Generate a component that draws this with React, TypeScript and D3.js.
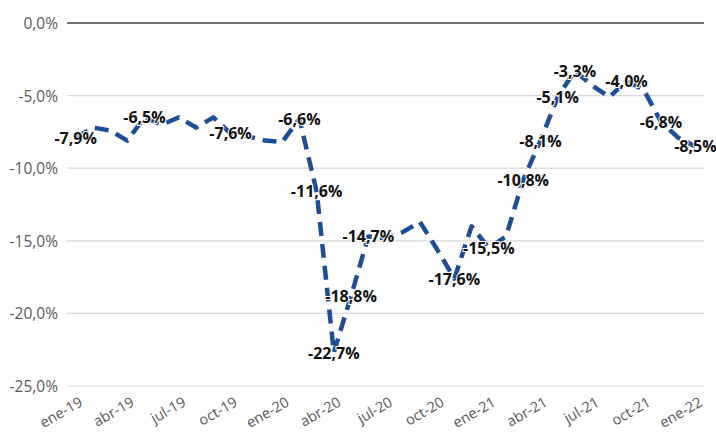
import React from "react";
import * as d3 from "d3";

const months = [
  "ene-19", "feb-19", "mar-19", "abr-19", "may-19", "jun-19", "jul-19", "ago-19", "sep-19", "oct-19", "nov-19", "dic-19",
  "ene-20", "feb-20", "mar-20", "abr-20", "may-20", "jun-20", "jul-20", "ago-20", "sep-20", "oct-20", "nov-20", "dic-20",
  "ene-21", "feb-21", "mar-21", "abr-21", "may-21", "jun-21", "jul-21", "ago-21", "sep-21", "oct-21", "nov-21", "dic-21",
  "ene-22",
];

const values = [
  -7.9, -7.2, -7.4, -8.1, -6.5, -7.0, -6.5, -7.2, -6.5, -7.6, -7.8, -8.1,
  -8.2, -6.6, -11.6, -22.7, -18.8, -14.7, -14.8, -14.4, -13.7, -15.6, -17.6, -14.0,
  -15.5, -14.7, -10.8, -8.1, -5.1, -3.3, -4.3, -5.1, -4.0, -4.6, -6.8, -7.9,
  -8.5,
];

const labeledMonths = [
  "ene-19", "may-19", "oct-19", "feb-20", "mar-20", "abr-20", "may-20", "jun-20", "nov-20",
  "ene-21", "mar-21", "abr-21", "may-21", "jun-21", "sep-21", "nov-21", "ene-22",
];

const tickMonths = months.filter((_, i) => i % 3 === 0);
const yTicks = [0, -5, -10, -15, -20, -25];

const fmt = (v: number) => v.toFixed(1).replace(".", ",") + "%";

export default function App() {
  const W = 716;
  const H = 433;
  const x = d3.scaleBand<string>().domain(months).range([67, 704]).padding(0);
  const y = d3.scaleLinear().domain([-25, 0]).range([386, 23]);
  const cx = (m: string) => (x(m) as number) + x.bandwidth() / 2;

  const line = d3
    .line<number>()
    .x((_, i) => cx(months[i]))
    .y((d) => y(d));

  const font = "'Open Sans', 'Noto Sans', sans-serif";

  return (
    <div style={{ position: "fixed", left: 0, top: 0, width: W, height: H, background: "#fff" }}>
      <svg width={W} height={H} style={{ display: "block" }}>
        <rect x={0} y={0} width={W} height={H} fill="#fff" />
        {yTicks.map((t) => (
          <line
            key={"g" + t}
            x1={67}
            x2={704}
            y1={y(t)}
            y2={y(t)}
            stroke={t === 0 ? "#404040" : "#d9d9d9"}
            strokeWidth={t === 0 ? 1.3 : 1.2}
          />
        ))}
        {yTicks.map((t) => (
          <text
            key={"yl" + t}
            x={58}
            y={y(t)}
            textAnchor="end"
            dominantBaseline="central"
            fontFamily={font}
            fontSize={15.5}
            fill="#595959"
          >
            {fmt(t)}
          </text>
        ))}
        {tickMonths.map((m) => (
          <text
            key={"xl" + m}
            transform={`translate(${cx(m) + 8},${405}) rotate(-30)`}
            textAnchor="end"
            fontFamily={font}
            fontSize={14.5}
            fill="#595959"
          >
            {m}
          </text>
        ))}
        <path
          d={line(values) || ""}
          fill="none"
          stroke="#1F4E99"
          strokeWidth={4.5}
          strokeDasharray="14 8"
          strokeLinejoin="round"
        />
        {months.map((m, i) =>
          labeledMonths.includes(m) ? (
            <text
              key={"dl" + m}
              x={cx(m)}
              y={y(values[i])}
              textAnchor="middle"
              dominantBaseline="central"
              fontFamily={font}
              fontWeight={700}
              fontSize={16}
              fill="#111"
              stroke="#fff"
              strokeWidth={2}
              paintOrder="stroke"
            >
              {fmt(values[i])}
            </text>
          ) : null
        )}
      </svg>
    </div>
  );
}
